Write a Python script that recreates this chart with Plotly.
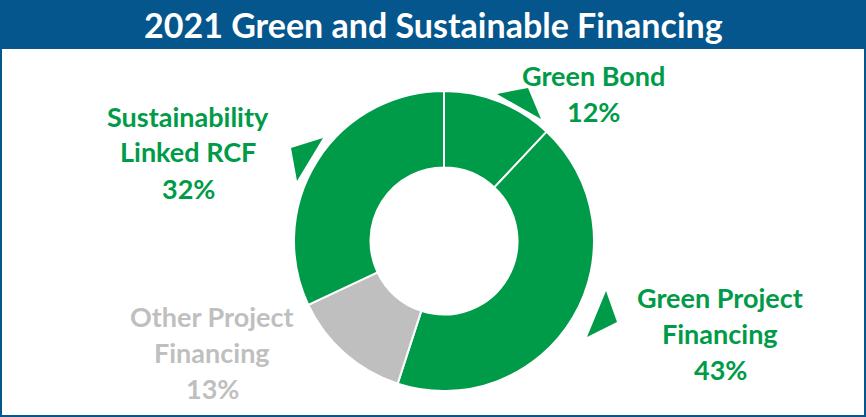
import plotly.graph_objects as go

W, H = 866, 417

labels = ['Green Bond', 'Green Project Financing', 'Other Project Financing', 'Sustainability Linked RCF']
values = [12, 43, 13, 32]
label_lines = [['Green Bond'], ['Green Project', 'Financing'], ['Other Project', 'Financing'], ['Sustainability', 'Linked RCF']]
slice_colors = ['#009b48', '#009b48', '#bfbfbf', '#009b48']

# where each label block sits (centre x, first line y), in pixels from top-left
label_pos = [(593, 75), (720, 297), (212, 316), (188, 116)]

blue = '#04568c'
green = '#009b48'


def px(x, y):
    return x / W, 1 - y / H


fig = go.Figure()
cx, cy, r = 444, 241, 150
x0, y0 = px(cx - r, cy + r)
x1, y1 = px(cx + r, cy - r)
fig.add_trace(go.Pie(labels=labels, values=values, hole=0.49, sort=False,
                     direction='clockwise', rotation=0,
                     marker=dict(colors=slice_colors, line=dict(color='white', width=2)),
                     textinfo='none', hoverinfo='label+percent', showlegend=False,
                     domain=dict(x=[x0, x1], y=[y0, y1])))

# label text, one annotation per line
for lines, val, col, (lx, ly) in zip(label_lines, values, slice_colors, label_pos):
    for i, t in enumerate(lines + [f'{val}%']):
        ax, ay = px(lx, ly + i * 36)
        fig.add_annotation(x=ax, y=ay, xref='paper', yref='paper', text=t, showarrow=False,
                           xanchor='center', yanchor='middle',
                           font=dict(family='Lato', size=27, color=col, weight='bold'))

# title bar
tx, ty = px(433, 25)
fig.add_annotation(x=tx, y=ty, xref='paper', yref='paper', text='2021 Green and Sustainable Financing',
                   showarrow=False, xanchor='center', yanchor='middle',
                   font=dict(family='Lato', size=34, color='white', weight='bold'))

shapes = [
    dict(type='rect', xref='paper', yref='paper', x0=0, x1=1, y0=1 - 49 / H, y1=1,
         fillcolor=blue, line=dict(width=0), layer='below'),
    dict(type='rect', xref='paper', yref='paper', x0=1 / W, x1=1 - 1 / W, y0=1 / H, y1=1 - 1 / H,
         fillcolor='rgba(0,0,0,0)', line=dict(color=blue, width=2)),
]

# decorative arrow heads around the ring
tris = [[(497, 94), (528, 88), (541, 119)],
        [(291, 148), (323, 138), (297, 181)],
        [(606, 291), (617, 322), (587, 337)]]
for tri in tris:
    pts = [px(x, y) for x, y in tri]
    path = 'M ' + ' L '.join(f'{a},{b}' for a, b in pts) + ' Z'
    shapes.append(dict(type='path', xref='paper', yref='paper', path=path,
                       fillcolor=green, line=dict(width=0)))

fig.update_layout(width=W, height=H, margin=dict(l=0, r=0, t=0, b=0),
                  paper_bgcolor='white', plot_bgcolor='white', shapes=shapes)

# the page body has a default 8px margin; drop it so the figure fills the window
fig.write_html('out.html', config={'displayModeBar': False},
               post_script="document.body.style.margin='0';")
